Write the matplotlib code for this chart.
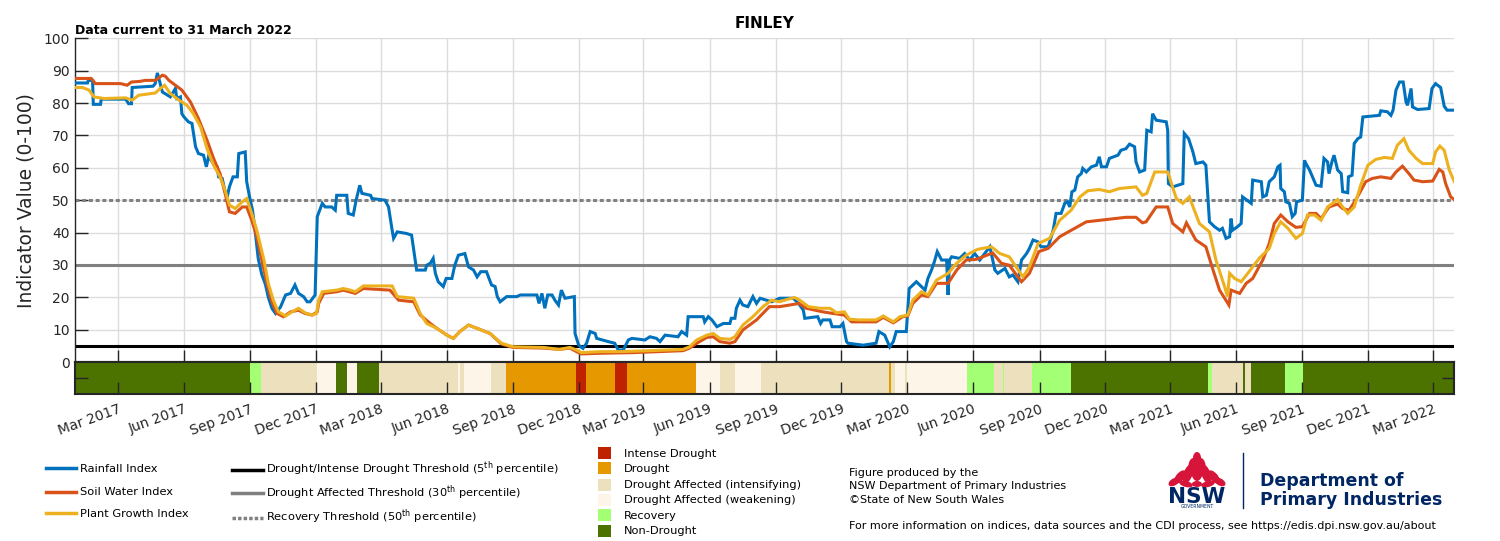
import numpy as np
import matplotlib
matplotlib.use("Agg")
import matplotlib.pyplot as plt
import matplotlib.dates as mdates
from matplotlib.patches import Rectangle, Ellipse
from matplotlib.lines import Line2D

# ---------------- data (days since 2017-01-01, index values) ----------------
start_date = "2017-01-01"

rain_day = [0, 17, 18, 24, 25, 35, 36, 70, 74, 78, 79, 108, 111, 114, 118, 121, 132, 139, 141, 146,
            148, 151, 157, 162, 167, 171, 178, 182, 185, 192, 197, 199, 204, 208, 211, 214, 219, 225, 227, 236,
            238, 242, 246, 250, 254, 259, 264, 268, 273, 278, 285, 292, 299, 305, 310, 317, 322, 326, 333, 336,
            343, 347, 356, 361, 363, 377, 379, 386, 390, 395, 398, 410, 412, 430, 435, 440, 442, 447, 460, 467,
            472, 474, 486, 488, 493, 497, 500, 504, 511, 515, 523, 527, 532, 541, 546, 553, 558, 563, 571, 578,
            583, 586, 590, 599, 613, 618, 641, 644, 648, 652, 656, 662, 666, 671, 675, 680, 693, 694, 699, 705,
            710, 715, 722, 724, 740, 749, 754, 761, 768, 773, 791, 798, 807, 812, 819, 837, 842, 849, 851, 872,
            874, 879, 884, 891, 900, 909, 911, 916, 918, 923, 927, 934, 941, 946, 951, 967, 978, 997, 1002, 1006,
            1011, 1013, 1031, 1035, 1038, 1048, 1051, 1062, 1066, 1071, 1073, 1094, 1112, 1116, 1124, 1131, 1136, 1140, 1154, 1158,
            1168, 1175, 1180, 1184, 1189, 1193, 1197, 1203, 1210, 1212, 1214, 1217, 1228, 1235, 1242, 1249, 1256, 1265, 1270, 1277,
            1281, 1291, 1297, 1302, 1309, 1314, 1321, 1325, 1330, 1337, 1341, 1351, 1358, 1362, 1369, 1374, 1378, 1381, 1384, 1388,
            1392, 1397, 1399, 1404, 1411, 1418, 1422, 1425, 1432, 1436, 1448, 1452, 1459, 1464, 1471, 1473, 1478, 1485, 1488, 1494,
            1496, 1501, 1515, 1517, 1518, 1524, 1538, 1540, 1546, 1552, 1556, 1566, 1570, 1575, 1582, 1589, 1593, 1598, 1603, 1605,
            1607, 1614, 1619, 1621, 1633, 1635, 1647, 1649, 1654, 1658, 1665, 1670, 1673, 1674, 1679, 1681, 1686, 1690, 1694, 1696,
            1704, 1707, 1709, 1714, 1718, 1723, 1730, 1734, 1739, 1741, 1745, 1748, 1753, 1758, 1760, 1767, 1768, 1773, 1776, 1781,
            1785, 1788, 1811, 1813, 1822, 1827, 1830, 1834, 1839, 1844, 1848, 1850, 1855, 1857, 1864, 1880, 1884, 1889, 1896, 1901,
            1905, 1915]
rain_val = [86.2, 86.2, 87.0, 87.0, 79.6, 79.6, 81.2, 81.2, 79.8, 79.8, 84.8, 85.2, 86.0, 89.3, 86.0, 83.4, 81.9, 84.5, 81.4, 81.9,
            76.7, 75.7, 74.2, 73.7, 66.5, 64.4, 63.9, 60.3, 63.4, 61.3, 60.3, 57.2, 56.7, 52.6, 51.0, 54.1, 57.2, 57.2, 64.4, 64.9,
            55.7, 51.0, 47.0, 40.0, 32.0, 27.0, 24.0, 20.0, 16.6, 15.0, 17.0, 20.7, 21.2, 23.8, 21.2, 20.2, 18.6, 18.6, 20.7, 44.9,
            49.0, 47.9, 47.9, 46.9, 51.5, 51.5, 45.9, 45.4, 50.0, 54.6, 52.1, 51.5, 50.5, 50.0, 47.9, 40.7, 38.2, 40.2, 39.7, 39.2,
            31.5, 28.4, 28.4, 29.9, 30.5, 32.0, 27.4, 24.8, 23.3, 25.8, 25.8, 29.9, 33.0, 33.5, 29.4, 28.4, 26.3, 27.9, 27.9, 23.8,
            23.3, 20.2, 18.6, 20.2, 20.2, 20.7, 20.7, 18.1, 21.2, 16.6, 20.7, 20.7, 19.1, 17.6, 22.2, 19.7, 20.2, 8.8, 5.2, 4.2,
            5.8, 9.4, 8.8, 7.3, 6.3, 5.8, 3.7, 3.7, 6.8, 7.3, 6.8, 7.8, 7.3, 6.3, 8.3, 7.8, 9.4, 8.3, 14.0, 14.0,
            12.4, 14.0, 13.0, 10.9, 11.9, 11.9, 13.5, 13.5, 16.6, 19.1, 17.6, 17.1, 20.2, 18.1, 19.7, 18.6, 19.7, 19.7, 18.6, 17.6,
            16.0, 13.5, 14.0, 11.9, 13.0, 13.0, 10.9, 10.9, 11.9, 6.3, 5.8, 5.2, 5.8, 9.4, 8.3, 4.7, 6.3, 9.4, 9.4, 22.7,
            24.8, 23.3, 22.2, 25.8, 28.4, 31.0, 34.1, 31.5, 31.5, 20.7, 31.5, 32.5, 32.0, 33.5, 31.5, 33.5, 31.5, 34.1, 35.6, 28.4,
            27.4, 28.9, 26.3, 26.9, 24.8, 31.5, 33.5, 35.1, 37.7, 37.1, 35.6, 35.6, 40.7, 45.9, 45.9, 49.0, 49.5, 47.9, 52.6, 53.1,
            57.2, 58.2, 59.8, 58.7, 60.3, 60.8, 63.4, 60.3, 60.3, 62.9, 63.9, 65.4, 65.9, 67.3, 66.5, 61.8, 58.7, 59.3, 71.6, 71.1,
            76.7, 74.7, 74.2, 71.6, 55.1, 54.1, 55.1, 70.6, 69.0, 64.9, 61.3, 61.8, 60.8, 43.3, 41.8, 40.7, 41.3, 38.2, 38.7, 44.3,
            40.7, 41.8, 42.8, 51.0, 49.0, 56.2, 55.7, 51.0, 51.5, 55.7, 57.2, 60.3, 60.8, 53.6, 52.6, 49.5, 49.0, 44.9, 45.9, 49.5,
            50.0, 62.3, 61.3, 59.3, 57.2, 54.6, 54.3, 62.9, 61.8, 58.2, 61.8, 63.9, 59.3, 58.2, 52.6, 52.3, 57.2, 57.7, 67.5, 69.0,
            69.5, 75.7, 76.2, 77.6, 77.3, 76.2, 77.8, 84.0, 86.5, 86.5, 80.3, 79.3, 84.5, 78.8, 78.0, 78.3, 84.5, 86.0, 84.8, 79.0,
            77.8, 77.8]

soil_day = [0, 22, 28, 63, 72, 78, 90, 97, 111, 121, 125, 130, 139, 148, 160, 171, 183, 192, 201, 208,
            214, 222, 232, 238, 245, 252, 259, 266, 273, 280, 289, 299, 310, 319, 329, 336, 338, 345, 363, 372,
            389, 400, 437, 449, 470, 479, 493, 502, 516, 525, 534, 546, 558, 576, 592, 608, 650, 672, 687, 696,
            703, 729, 775, 844, 853, 863, 877, 886, 895, 909, 916, 927, 946, 964, 978, 992, 1005, 1015, 1038, 1052,
            1068, 1078, 1112, 1122, 1136, 1149, 1156, 1163, 1175, 1184, 1196, 1212, 1224, 1237, 1251, 1274, 1286, 1297, 1314, 1325,
            1338, 1351, 1367, 1383, 1404, 1432, 1459, 1473, 1482, 1487, 1501, 1517, 1524, 1538, 1543, 1556, 1570, 1580, 1589, 1602,
            1605, 1617, 1626, 1635, 1649, 1658, 1665, 1674, 1684, 1695, 1704, 1714, 1723, 1730, 1741, 1753, 1760, 1769, 1778, 1792,
            1801, 1813, 1827, 1834, 1843, 1852, 1859, 1871, 1885, 1894, 1899, 1903, 1910, 1915]
soil_val = [87.6, 87.6, 86.0, 86.0, 85.5, 86.5, 86.7, 87.0, 87.0, 88.6, 88.3, 87.0, 85.5, 84.0, 80.3, 75.2, 68.5, 62.9, 58.2, 52.1,
            46.4, 45.9, 47.9, 47.9, 43.8, 38.7, 31.5, 24.3, 18.6, 15.0, 14.0, 15.5, 16.0, 15.0, 14.5, 15.5, 18.1, 21.2, 21.7, 22.2,
            21.2, 22.7, 22.2, 19.1, 18.6, 14.5, 11.9, 10.4, 8.3, 7.3, 9.4, 11.4, 10.4, 8.8, 5.5, 4.5, 4.3, 3.9, 4.3, 3.2,
            2.5, 2.7, 2.9, 3.5, 4.3, 5.8, 7.6, 7.8, 6.3, 5.8, 6.3, 9.9, 13.0, 17.1, 17.1, 17.6, 18.1, 16.6, 15.5, 15.0,
            14.5, 12.4, 12.4, 13.8, 12.1, 14.0, 14.2, 18.1, 20.7, 20.2, 24.3, 24.3, 28.4, 31.5, 31.7, 33.7, 30.5, 29.9, 24.8, 27.4,
            34.1, 35.1, 38.7, 40.7, 43.3, 44.0, 44.7, 44.7, 43.0, 43.3, 47.9, 47.9, 42.8, 40.2, 43.0, 37.7, 35.6, 28.4, 22.2, 17.6,
            22.2, 21.2, 24.3, 25.8, 31.5, 36.6, 42.8, 45.4, 43.3, 41.6, 41.8, 45.9, 45.9, 44.3, 47.9, 48.8, 47.4, 46.9, 50.0, 55.7,
            56.7, 57.2, 56.7, 58.7, 60.5, 58.2, 56.2, 55.7, 55.9, 59.5, 58.7, 55.1, 51.0, 50.2]

plant_day = [0, 10, 19, 26, 40, 70, 79, 88, 111, 118, 124, 132, 144, 155, 164, 174, 183, 192, 201, 208,
             214, 222, 232, 238, 245, 252, 262, 268, 275, 282, 292, 301, 310, 319, 329, 335, 338, 343, 363, 372,
             382, 389, 400, 440, 447, 470, 479, 488, 502, 516, 525, 534, 546, 558, 576, 592, 608, 650, 672, 687,
             696, 703, 729, 756, 798, 844, 853, 863, 877, 886, 895, 909, 916, 927, 941, 955, 967, 978, 988, 999,
             1006, 1018, 1034, 1048, 1057, 1068, 1075, 1089, 1112, 1122, 1136, 1145, 1156, 1163, 1175, 1184, 1196, 1212, 1224, 1237,
             1253, 1272, 1284, 1297, 1316, 1325, 1337, 1353, 1367, 1383, 1395, 1406, 1422, 1436, 1450, 1473, 1482, 1488, 1499, 1517,
             1529, 1538, 1547, 1561, 1575, 1584, 1596, 1600, 1603, 1610, 1619, 1630, 1644, 1658, 1665, 1674, 1684, 1695, 1704, 1711,
             1721, 1730, 1739, 1753, 1760, 1767, 1776, 1785, 1795, 1806, 1818, 1829, 1836, 1845, 1852, 1862, 1871, 1885, 1889, 1895,
             1901, 1908, 1915]
plant_val = [84.8, 84.8, 84.0, 81.9, 81.4, 81.6, 80.9, 82.4, 83.1, 84.5, 85.5, 82.9, 80.9, 79.3, 76.7, 72.6, 65.9, 60.8, 57.2, 53.1,
             48.5, 47.4, 49.5, 50.5, 45.9, 40.7, 31.5, 24.3, 19.1, 15.5, 14.2, 15.5, 16.6, 15.2, 14.5, 15.0, 19.1, 21.7, 22.2, 22.7,
             22.2, 21.7, 23.5, 23.5, 20.2, 19.7, 15.0, 11.9, 10.4, 8.3, 7.3, 9.4, 11.4, 10.4, 8.8, 5.8, 4.7, 4.5, 3.9, 4.5,
             3.7, 2.9, 3.2, 3.2, 3.5, 3.9, 4.7, 6.8, 8.3, 8.8, 7.3, 7.0, 7.8, 11.4, 14.0, 17.1, 19.1, 18.6, 19.3, 19.9,
             19.1, 17.1, 16.6, 16.6, 15.2, 15.5, 13.2, 13.0, 13.0, 14.2, 12.4, 14.0, 14.5, 19.1, 21.7, 20.7, 25.3, 27.4, 30.5, 33.0,
             34.8, 35.6, 33.5, 32.5, 26.3, 29.4, 36.6, 38.2, 43.8, 46.9, 51.0, 52.9, 53.3, 52.6, 53.6, 54.1, 51.5, 52.1, 58.7, 58.7,
             50.5, 49.0, 51.0, 42.8, 40.2, 31.5, 23.3, 20.2, 27.4, 25.8, 24.8, 27.9, 32.0, 35.1, 39.7, 43.3, 41.3, 38.2, 39.7, 45.4,
             45.4, 43.8, 47.9, 50.2, 47.9, 45.9, 47.9, 54.6, 60.8, 62.6, 63.2, 62.9, 67.0, 69.0, 65.4, 62.9, 61.3, 61.3, 64.9, 66.7,
             65.4, 59.3, 55.7]

# drought category strip: start day of each period and its category index
categories = ["Intense Drought", "Drought", "Drought Affected (intensifying)",
              "Drought Affected (weakening)", "Recovery", "Non-Drought"]
strip_start = [0, 243, 258, 335, 362, 378, 391, 422, 532, 534, 540, 577, 598, 695, 709, 749, 766, 862, 895, 916,
               952, 1130, 1133, 1138, 1152, 1155, 1238, 1276, 1288, 1289, 1329, 1383, 1573, 1578, 1621, 1625, 1633, 1680, 1705]
strip_cat = [5, 4, 2, 3, 5, 3, 5, 2, 3, 2, 3, 2, 1, 0, 1, 0, 1, 3, 2, 3,
             2, 1, 2, 3, 2, 3, 4, 2, 4, 2, 4, 5, 4, 2, 5, 2, 5, 4, 5]
strip_end_day = 1915

thresholds = [5, 30, 50]
series_names = ["Rainfall Index", "Soil Water Index", "Plant Growth Index"]

# ---------------- styling ----------------
series_colors = ["#0072BD", "#D95319", "#EDB120"]
cat_colors = ["#BF2200", "#E69800", "#EDE1BD", "#FDF5E8", "#A3FF73", "#4C7300"]
dark = "#262626"
navy = "#002664"

base = np.datetime64(start_date)


def to_dates(days):
    return base + np.asarray(days).astype("timedelta64[D]")


W, H = 1500, 541


def fx(px):
    return px / W


def fy(py):
    return 1 - py / H


fig = plt.figure(figsize=(15, 5.41), dpi=100)

L, R = 75.3, 1454.3
ax = fig.add_axes([fx(L), fy(362), fx(R) - fx(L), fy(38.3) - fy(362)])
axs = fig.add_axes([fx(L), fy(394), fx(R) - fx(L), fy(362) - fy(394)], sharex=ax)

# thresholds
ax.axhline(thresholds[0], color="black", lw=2.2, zorder=2)
ax.axhline(thresholds[1], color="#808080", lw=2.2, zorder=2)
ax.axhline(thresholds[2], color="#808080", lw=2.2, ls=(0, (1.3, 0.9)), zorder=2)

for d, v, c in zip([rain_day, soil_day, plant_day], [rain_val, soil_val, plant_val], series_colors):
    ax.plot(to_dates(d), v, color=c, lw=2.2, zorder=3, solid_joinstyle="miter")

ax.set_ylim(0, 100)
ax.set_yticks(np.arange(0, 101, 10))
ax.set_xlim(to_dates(0), to_dates(strip_end_day))
ax.grid(True, color="#dcdcdc", lw=1)
ax.set_axisbelow(True)
for s in ["top", "right"]:
    ax.spines[s].set_visible(False)
ax.spines["left"].set_color(dark)
ax.spines["left"].set_linewidth(1)
ax.spines["bottom"].set_color(dark)
ax.spines["bottom"].set_linewidth(1.5)
ax.tick_params(direction="in", length=9, width=1, color=dark, labelsize=10, labelcolor=dark, pad=4)
ax.tick_params(axis="x", labelbottom=False)
ax.set_ylabel("Indicator Value (0-100)", fontsize=13.5, color=dark)
ax.yaxis.set_label_coords(-0.0285, 0.5)

# strip
ends = strip_start[1:] + [strip_end_day]
for s, e, c in zip(strip_start, ends, strip_cat):
    axs.axvspan(mdates.date2num(to_dates(s)), mdates.date2num(to_dates(e)), color=cat_colors[c], lw=0)
axs.set_ylim(0, 1)
axs.set_yticks([0.5])
axs.tick_params(axis="y", direction="in", length=9, width=1, color=dark, left=True, right=True,
                labelleft=False)
axs.tick_params(axis="x", direction="in", length=9, width=1, color=dark, labelsize=10,
                labelcolor=dark, pad=6)
for s in axs.spines.values():
    s.set_color(dark)
    s.set_linewidth(1.5)
axs.xaxis.set_major_locator(mdates.MonthLocator(bymonth=(3, 6, 9, 12)))
axs.xaxis.set_major_formatter(mdates.DateFormatter("%b %Y"))
for lab in axs.get_xticklabels():
    lab.set_rotation(20)
    lab.set_ha("right")
    lab.set_va("top")
    lab.set_rotation_mode("anchor")
axs.set_xlim(to_dates(0), to_dates(strip_end_day))

# titles
fig.text(fx(764.8), fy(24), "FINLEY", ha="center", va="center", fontsize=11, fontweight="bold")
fig.text(fx(L), fy(30.5), "Data current to 31 March 2022", ha="left", va="center",
         fontsize=9, fontweight="bold")

# ---------------- legend ----------------
fs = 8.2
for name, c, y in zip(series_names, series_colors, [468.3, 491.7, 513.3]):
    fig.add_artist(Line2D([fx(45.5), fx(75.9)], [fy(y), fy(y)], color=c, lw=2.5))
    fig.text(fx(79.5), fy(y + 3.4), name, ha="left", va="baseline", fontsize=fs)

thr_labels = ["Drought/Intense Drought Threshold (5$^{\\mathrm{th}}$ percentile)",
              "Drought Affected Threshold (30$^{\\mathrm{th}}$ percentile)",
              "Recovery Threshold (50$^{\\mathrm{th}}$ percentile)"]
thr_styles = [("black", "-"), ("#808080", "-"), ("#808080", (0, (1.0, 0.6)))]
for lab, (c, ls), y in zip(thr_labels, thr_styles, [469.5, 492.8, 517.5]):
    fig.add_artist(Line2D([fx(232), fx(263.4)], [fy(y), fy(y)], color=c, lw=2.5, ls=ls))
    fig.text(fx(266.5), fy(y + 3.4), lab, ha="left", va="baseline", fontsize=fs)

for name, c, yc in zip(categories, cat_colors, [453.3, 468.3, 484.5, 499.5, 515.3, 530.5]):
    fig.add_artist(Rectangle((fx(598.2), fy(yc + 6)), fx(12.5), 12 / H, color=c, lw=0,
                             transform=fig.transFigure))
    fig.text(fx(623.7), fy(yc + 3.4), name, ha="left", va="baseline", fontsize=fs)

for t, y in zip(["Figure produced by the", "NSW Department of Primary Industries",
                 "\u00a9State of New South Wales"], [472.3, 486, 500]):
    fig.text(fx(849), fy(y + 3.4), t, ha="left", va="baseline", fontsize=8)
fig.text(fx(849), fy(526 + 3.4),
         "For more information on indices, data sources and the CDI process, see https://edis.dpi.nsw.gov.au/about",
         ha="left", va="baseline", fontsize=8)

# ---------------- logo ----------------
lax = fig.add_axes([fx(1166), fy(510), fx(62), 62 / H])
lax.set_xlim(0, 62)
lax.set_ylim(62, 0)
lax.axis("off")
red = "#D7153A"
# waratah: bracts and central dome
for cx, cy, w, h, ang in [(31, 22, 12, 22, 0), (22, 26, 9, 20, 20), (40, 26, 9, 20, -20),
                          (14, 29, 8, 16, 40), (48, 29, 8, 16, -40), (8, 34, 7, 12, 60), (54, 34, 7, 12, -60),
                          (26, 17, 7, 14, 10), (36, 17, 7, 14, -10), (31, 10, 8, 12, 0)]:
    lax.add_patch(Ellipse((cx, cy), w, h, angle=ang, color=red, lw=0))
for cx, cy, w, h, ang in [(20, 36, 14, 6, 15), (42, 36, 14, 6, -15), (31, 36, 10, 6, 0)]:
    lax.add_patch(Ellipse((cx, cy), w, h, angle=ang, color=red, lw=0))
lax.text(31, 49, "NSW", ha="center", va="center", fontsize=15.5, fontweight="bold", color=navy)
lax.text(31, 58.5, "GOVERNMENT", ha="center", va="center", fontsize=3.3, color=navy)

fig.add_artist(Line2D([fx(1243.4), fx(1243.4)], [fy(453), fy(508)], color=navy, lw=1))
fig.text(fx(1259.7), fy(481), "Department of", ha="left", va="center", fontsize=12.5,
         fontweight="bold", color=navy)
fig.text(fx(1259.7), fy(500), "Primary Industries", ha="left", va="center", fontsize=12.5,
         fontweight="bold", color=navy)

fig.savefig("out.png", dpi=100)
